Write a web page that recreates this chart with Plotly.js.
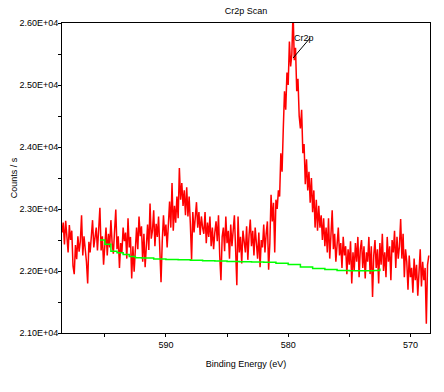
<!DOCTYPE html>
<html>
<head>
<meta charset="utf-8">
<script src="https://cdn.plot.ly/plotly-3.0.1.min.js"></script>
<style>html,body{margin:0;padding:0;background:#fff;}#chart{width:444px;height:392px;}</style>
</head>
<body>
<div id="chart"></div>
<script>
// Scan axis: binding energy start and step (eV)
const ENERGY_START = 598.5;
const ENERGY_STEP = -0.1;

// Cr2p spectrum counts (counts/s), one value per 0.1 eV from 598.5 down to 568.5
const counts = [
  22620, 22780, 22430, 22810, 22560, 22300, 22740, 22500, 22650, 22080,
  21950, 22420, 22190, 22560, 22310, 22480, 22900, 22250, 22560, 22380,
  22150, 21800, 22470, 22300, 22640, 22820, 22380, 22560, 22700, 22330,
  22760, 23020,
  22330, 22560, 22100, 22450, 22700, 22250, 22600, 22380, 22820, 22450,
  22280, 22650, 22990, 22350, 22560, 22050, 22450, 22300, 22700, 22480,
  22620, 22200, 22850, 22380, 22550, 21880, 22400, 21990, 22480, 22700,
  22350, 22880, 22560, 22720, 22150, 22600, 22060, 22480, 22750, 22340,
  23090, 22520, 22650, 22980, 22400, 22760, 22550, 22880, 22300,
  21820, 22480, 22900, 22560, 22750, 22380, 22900, 23120, 22700, 23420,
  22650, 23050, 22780, 23200, 22850, 23660, 23150, 23420, 23050, 23300,
  22900, 23350, 22880, 23200, 22750, 22180, 22950, 22620, 22860, 23110,
  22700, 22950, 22580, 22880, 22700,
  22600, 22950, 22450, 22780, 22550, 22880, 22400, 22700, 22350, 22620,
  22800, 22480, 22900, 22250, 21850, 22550, 22700, 22320, 22880, 22450,
  22650, 22200, 22750, 22400, 22600, 22900, 22350, 21770, 22880, 22300,
  22550, 22120, 22650, 22400, 22300, 22720, 22180, 22580, 22830, 22400,
  22650, 22250, 22700, 22450, 22200, 22620, 22060, 22500, 22380, 22750,
  22300, 22600, 22800, 22020, 22450,
  23230, 22800, 23100, 22300, 23150, 23000, 23300, 23200, 23900, 23600,
  24300, 24900, 24600, 25200, 25000, 25700, 25300, 25500, 26200, 25400,
  25600, 24900, 25100, 24500, 24300, 24600, 23900, 24050, 23400, 23800,
  23300, 23600, 23100, 23500, 22950, 23300, 22700, 23150, 22650, 23050,
  22700, 22900, 22500, 22850, 22400,
  22700, 22300, 22850, 22200, 22650, 22980, 22350, 22600, 22150, 22500,
  22700, 22250, 22450, 22050, 22550, 22250, 22400, 21950, 22350, 22100,
  22480, 21800, 22300, 22000, 22450, 22150, 22550, 21900, 22350, 22500,
  22050, 22400, 21880, 22300, 22150, 22550, 21950, 22400, 21580, 22250,
  22500, 22050, 22350, 21800, 22450, 22100, 22600, 22000, 22300, 21900,
  22550, 22150, 22400, 21850, 22500, 22300, 22650, 22050, 22550, 22200,
  22400, 22840, 22200, 22600, 21900, 22350, 22150, 21700, 22250, 21900,
  22050, 21650, 22200, 21850, 22100, 21600, 22000, 22350, 21750, 22150,
  21850, 22050, 21150, 22100, 22250
];

// Background (Shirley-type) under the peak region
const bgEnergy = [595.4, 595.0, 594.5, 594.0, 593.5, 593.0, 592.5, 592.0, 591.0, 590.0,
  589.0, 588.0, 587.0, 586.0, 585.0, 584.0, 583.0, 582.0, 581.0, 580.0,
  579.0, 578.0, 577.0, 576.0, 575.0, 574.0, 573.0, 572.5];
const bgCounts = [22500, 22430, 22320, 22295, 22265, 22235, 22215, 22210, 22195, 22185,
  22180, 22175, 22165, 22160, 22155, 22150, 22145, 22140, 22125, 22105,
  22065, 22040, 22025, 22010, 22005, 22005, 22010, 22040];

// Axis ticks
const xTickVals = [590, 580, 570];
const yTickVals = [21000, 22000, 23000, 24000, 25000, 26000];
const yTickText = ["2.10E+04", "2.20E+04", "2.30E+04", "2.40E+04", "2.50E+04", "2.60E+04"];

// Peak label
const peakLabel = "Cr2p";
const labelPos = {x: 578.7, y: 25760};
const leaderFrom = {x: 578.2, y: 25760};
const leaderTo = {x: 579.6, y: 25435};

const FONT = "Liberation Sans, Arial, sans-serif";

const traces = [
  {
    type: "scatter", mode: "lines",
    x0: ENERGY_START, dx: ENERGY_STEP, y: counts,
    line: {color: "#ff0000", width: 1.5},
    hoverinfo: "skip", showlegend: false
  },
  {
    type: "scatter", mode: "lines",
    x: bgEnergy, y: bgCounts,
    line: {color: "#00ff00", width: 1.5, shape: "hv"},
    hoverinfo: "skip", showlegend: false
  }
];

const layout = {
  width: 444, height: 392,
  margin: {l: 62, r: 14, t: 23, b: 59},
  paper_bgcolor: "#ffffff", plot_bgcolor: "#ffffff",
  font: {family: FONT, size: 9, color: "#000"},
  title: {text: "Cr2p Scan", font: {family: FONT, size: 9, color: "#000"}, x: 0.554, xanchor: "center", y: 0.972, yanchor: "middle"},
  xaxis: {
    range: [598.5, 568.4], autorange: false,
    tickvals: xTickVals, ticktext: xTickVals.map(String),
    ticks: "outside", ticklen: 3, tickwidth: 1, tickcolor: "#000",
    minor: {dtick: 5, tick0: 570, ticks: "outside", ticklen: 3, tickcolor: "#000"},
    showline: true, linecolor: "#000", linewidth: 1, mirror: true,
    showgrid: false, zeroline: false,
    tickfont: {family: FONT, size: 9, color: "#000"},
    title: {text: "Binding Energy (eV)", font: {family: FONT, size: 9, color: "#000"}, standoff: 11}
  },
  yaxis: {
    range: [21000, 26000], autorange: false,
    tickvals: yTickVals, ticktext: yTickText,
    ticks: "outside", ticklen: 3, tickwidth: 1, tickcolor: "#000",
    minor: {dtick: 500, tick0: 21000, ticks: "outside", ticklen: 3, tickcolor: "#000"},
    showline: true, linecolor: "#000", linewidth: 1, mirror: true,
    showgrid: false, zeroline: false,
    tickfont: {family: FONT, size: 9, color: "#000"},
    ticklabelstandoff: -2,
    title: {text: "Counts / s", font: {family: FONT, size: 9, color: "#000"}, standoff: 0}
  },
  annotations: [
    {x: labelPos.x, y: labelPos.y, xref: "x", yref: "y", text: peakLabel, showarrow: false,
     font: {family: FONT, size: 9, color: "#000"}, xanchor: "center", yanchor: "middle"}
  ],
  shapes: [
    {type: "line", xref: "x", yref: "y", x0: leaderFrom.x, y0: leaderFrom.y, x1: leaderTo.x, y1: leaderTo.y,
     line: {color: "#000", width: 1}}
  ]
};

Plotly.newPlot("chart", traces, layout, {displayModeBar: false, staticPlot: true});
</script>
</body>
</html>
